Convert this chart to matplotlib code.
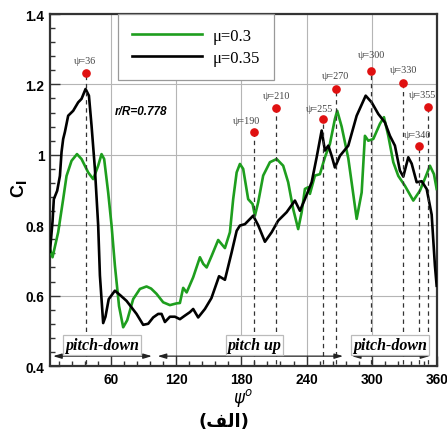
import matplotlib
matplotlib.use("Agg")
import matplotlib.pyplot as plt
import numpy as np

# azimuth angle psi (deg) and section lift coefficient
psi_03 = [3.9, 6.3, 11.5, 16.1, 19.2, 23.8, 28.8, 33.0, 39.1, 43.7, 48.3, 51.4, 53.8, 57.5,
          60.6, 63.7, 67.5, 71.3, 75.0, 80.5, 86.7, 92.8, 97.0, 102.0, 108.1, 114.3, 120.5,
          123.5, 126.5, 129.7, 135.7, 141.9, 145.0, 148.1, 152.7, 158.7, 164.9, 169.5, 172.5,
          175.7, 178.7, 181.7, 186.3, 190.4, 192.5, 195.5, 200.1, 206.3, 212.5, 218.5, 223.1,
          227.7, 232.3, 235.5, 238.5, 241.6, 243.1, 247.7, 252.3, 256.9, 261.5, 266.1, 268.2,
          272.3, 278.4, 282.0, 286.1, 290.7, 293.7, 296.8, 301.4, 307.5, 311.2, 315.2, 319.8,
          324.4, 330.5, 338.2, 344.3, 350.5, 353.5, 357.2, 359.7]
cl_03 = [0.733, 0.709, 0.78, 0.874, 0.94, 0.983, 1.002, 0.988, 0.95, 0.931, 0.969, 1.002, 0.988, 0.893,
         0.80, 0.685, 0.57, 0.51, 0.53, 0.59, 0.619, 0.626, 0.62, 0.605, 0.581, 0.573, 0.578,
         0.579, 0.622, 0.609, 0.652, 0.709, 0.69, 0.68, 0.713, 0.758, 0.735, 0.78, 0.874,
         0.95, 0.974, 0.96, 0.874, 0.86, 0.827, 0.865, 0.941, 0.979, 0.988, 0.969, 0.922,
         0.846, 0.789, 0.837, 0.903, 0.908, 0.889, 0.941, 0.945, 0.993, 1.031, 1.102, 1.125,
         1.08, 0.99, 0.91, 0.818, 0.893, 1.054, 1.04, 1.045, 1.088, 1.107, 1.054, 0.979,
         0.94, 0.912, 0.87, 0.898, 0.945, 0.969, 0.945, 0.903]

psi_035 = [3.9, 6.3, 7.5, 10.6, 13.1, 14.6, 16.1, 17.7, 20.7, 25.3, 29.9, 33.0, 36.7, 39.8, 42.2,
           45.3, 48.3, 49.9, 52.9, 55.0, 58.0, 63.7, 69.0, 74.4, 83.6, 89.7, 94.3, 98.9,
           103.5, 106.6, 109.7, 114.3, 118.9, 123.5, 128.0, 132.7, 135.7, 140.3, 146.5, 152.5,
           159.5, 164.9, 171.1, 175.7, 178.7, 183.3, 190.9, 195.5, 201.7, 207.9, 213.9, 221.7,
           229.3, 233.9, 238.5, 244.7, 249.3, 253.9, 256.9, 260.0, 263.1, 266.1, 270.7, 278.4,
           286.1, 294.4, 299.9, 306.0, 312.1, 316.7, 321.3, 325.9, 329.0, 333.6, 336.7, 341.3,
           345.9, 350.5, 355.1, 358.1, 359.7]
cl_035 = [0.724, 0.81, 0.874, 0.898, 0.94, 1.008, 1.045, 1.065, 1.111, 1.125, 1.149, 1.159, 1.187,
          1.168, 1.083,
          0.96, 0.80, 0.657, 0.522, 0.54, 0.59, 0.614, 0.60, 0.585, 0.548, 0.517, 0.52, 0.538,
          0.548, 0.548, 0.525, 0.54, 0.54, 0.533, 0.543, 0.553, 0.562, 0.538, 0.562, 0.593,
          0.655, 0.645, 0.723, 0.784, 0.799, 0.803, 0.827, 0.80, 0.753, 0.78, 0.813, 0.837,
          0.87, 0.841, 0.874, 0.922, 0.993, 1.069, 1.012, 1.026, 0.997, 0.964, 0.997, 1.026,
          1.111, 1.168, 1.149, 1.116, 1.092, 1.054, 1.026, 0.955, 0.938, 0.993, 0.975, 0.922,
          0.925, 0.903, 0.83, 0.685, 0.628]

# marked azimuth stations (red dots)
mark_labels = ["\u03c8=36", "\u03c8=190", "\u03c8=210", "\u03c8=255", "\u03c8=270",
               "\u03c8=300", "\u03c8=330", "\u03c8=340", "\u03c8=355"]
mark_psi = [37.0, 191.5, 212.0, 255.4, 267.5, 299.2, 328.4, 343.7, 351.7]
mark_cl = [1.232, 1.066, 1.132, 1.102, 1.187, 1.239, 1.204, 1.024, 1.137]

# blade pitch phases along the bottom
phase_labels = ["pitch-down", "pitch up", "pitch-down"]
phase_start = [6.8, 103.0, 281.7]
phase_end = [97.7, 273.6, 353.0]
phase_text_x = [51.7, 192.0, 316.7]

fig = plt.figure(figsize=(4.47, 4.35), dpi=100)
ax = fig.add_axes([0.1119, 0.1563, 0.8657, 0.8092])

ax.grid(True, which="major", color="#b5b5b5", linewidth=0.8, zorder=0)
ax.plot(psi_03, cl_03, color="#1e9e1e", linewidth=1.9, label="\u03bc=0.3", zorder=3)
ax.plot(psi_035, cl_035, color="black", linewidth=1.9, label="\u03bc=0.35", zorder=3)

offsets = [(-1, 12.6), (-7.7, 11), (0, 12.6), (-4.3, 10.7), (-0.7, 13.3),
           (0.7, 15.7), (0.6, 13.3), (-1.7, 12.3), (-5.3, 12)]
for lab, px, py, off in zip(mark_labels, mark_psi, mark_cl, offsets):
    ax.plot([px, px], [0.405, py], color="#333333", linewidth=0.9,
            linestyle=(0, (3.5, 3)), zorder=4)
    ax.plot(px, py, "o", color="#e01010", markersize=5.2, zorder=5)
    ax.annotate(lab, (px, py), xytext=off, textcoords="offset pixels",
                ha="center", va="center", fontsize=7.3, color="#444444",
                family="Liberation Serif", zorder=5)

ax.text(88.2, 1.124, "r/R=0.778", ha="center", va="center", fontsize=8.5,
        fontweight="bold", fontstyle="italic", family="Liberation Sans", zorder=5)

for lab, x0, x1, xt in zip(phase_labels, phase_start, phase_end, phase_text_x):
    ax.annotate("", xy=(x1, 0.428), xytext=(x0, 0.428),
                arrowprops=dict(arrowstyle="<|-|>,head_length=0.5,head_width=0.15",
                                color="#222222", lw=0.9, shrinkA=0, shrinkB=0), zorder=5)
    ax.text(xt, 0.459, lab, ha="center", va="center", fontsize=11.5,
            fontweight="bold", fontstyle="italic", family="Liberation Serif",
            bbox=dict(boxstyle="square,pad=0.12", facecolor="white", edgecolor="#bbbbbb",
                      linewidth=0.9), zorder=6)

ax.set_xlim(4, 360)
ax.set_ylim(0.4, 1.4)
ax.set_xticks([60, 120, 180, 240, 300, 360])
ax.set_xticks(np.arange(12, 360, 12), minor=True)
ax.set_yticks([0.4, 0.6, 0.8, 1.0, 1.2, 1.4])
ax.set_yticklabels(["0.4", "0.6", "0.8", "1", "1.2", "1.4"])
ax.set_yticks(np.arange(0.44, 1.4, 0.04), minor=True)
ax.tick_params(which="both", direction="in", color="#333333", width=1.0)
ax.tick_params(which="major", length=7, labelsize=9.8, pad=4)
ax.tick_params(which="minor", length=3.5)
for t in ax.get_xticklabels() + ax.get_yticklabels():
    t.set_fontweight("bold")
    t.set_family("Liberation Sans")
for s in ax.spines.values():
    s.set_linewidth(1.6)
    s.set_color("#333333")

ax.set_ylabel("C$_\\mathbf{l}$", fontsize=13, fontweight="bold", family="Liberation Sans")
ax.yaxis.set_label_coords(-0.054, 0.506)
ax.set_xlabel("$\\psi^{o}$", fontsize=12, labelpad=0)

leg = ax.legend(loc="upper left", bbox_to_anchor=(0.176, 1.0), borderaxespad=0,
                prop={"family": "Liberation Serif", "size": 12}, handlelength=4.2,
                handletextpad=0.6, borderpad=0.85, labelspacing=0.35, fancybox=False,
                framealpha=1, edgecolor="#999999")
leg.get_frame().set_linewidth(0.9)
leg.set_zorder(7)

# caption "(alef)" in visual order with presentation forms
fig.text(0.501, 0.031, "(\ufed2\ufedf\ufe8d)", ha="center", va="center", fontsize=13,
         fontweight="bold", family="DejaVu Sans")

fig.savefig("out.png", dpi=100)
